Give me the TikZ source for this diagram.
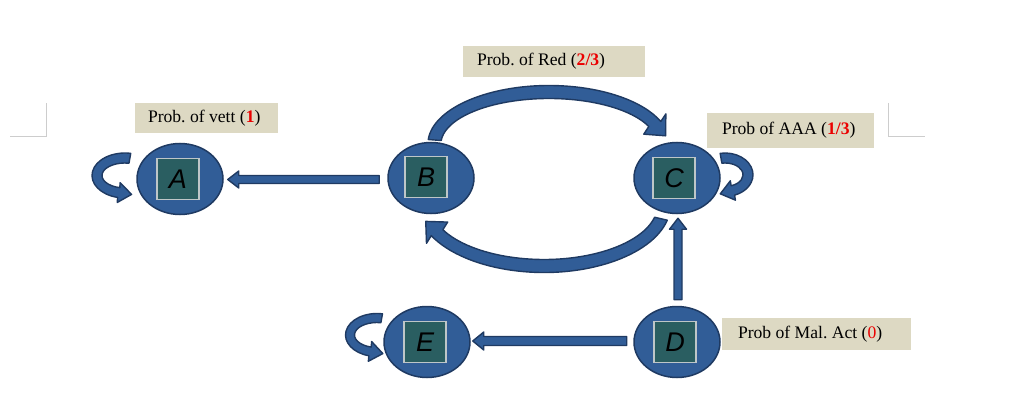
\documentclass[tikz,border=0pt]{standalone}
\usepackage{fontspec}
\setmainfont{Liberation Serif}
\newfontfamily\lettersans{Liberation Sans}
\usetikzlibrary{shapes.geometric,calc}
\definecolor{nodeblue}{RGB}{49,93,151}
\definecolor{edgeblue}{RGB}{31,58,98}
\definecolor{squareteal}{RGB}{42,94,97}
\definecolor{squareedge}{RGB}{190,198,200}
\definecolor{labeltan}{RGB}{221,217,195}
\definecolor{markgray}{RGB}{205,205,205}
\definecolor{probred}{RGB}{235,0,0}
\tikzset{
  blockarrow/.style={fill=nodeblue, draw=edgeblue, line width=1.4pt, line join=round},
  stateell/.style={ellipse, fill=nodeblue, draw=edgeblue, line width=1.5pt, minimum width=86pt, minimum height=71pt, inner sep=0pt},
  statesq/.style={rectangle, fill=squareteal, draw=squareedge, line width=1.3pt, minimum width=42pt, minimum height=41pt, inner sep=0pt, font=\lettersans\itshape\fontsize{27}{30}\selectfont},
  labelbox/.style={rectangle, fill=labeltan, inner sep=0pt},
  labeltext/.style={anchor=west, inner sep=0pt, font=\fontsize{17.6}{20}\selectfont},
  cornermark/.style={draw=markgray, line width=1pt}
}
\newcommand{\hl}[1]{{\color{probred}\bfseries #1}}
\newcommand{\bandarrow}[8]{%
  \pgfmathsetmacro{\bandsgn}{(#5>#4)?1:-1}%
  \pgfmathsetmacro{\banddir}{atan2((\bandsgn)*(#3)*cos(#5), -(\bandsgn)*(#2)*sin(#5))}%
  \pgfmathsetmacro{\bandout}{\banddir-90*(\bandsgn)}%
  \pgfmathsetmacro{\bandin}{\banddir+90*(\bandsgn)}%
  \pgfmathsetmacro{\bandrxo}{#2+#6}\pgfmathsetmacro{\bandryo}{#3+#6}%
  \pgfmathsetmacro{\bandrxi}{#2-#6}\pgfmathsetmacro{\bandryi}{#3-#6}%
  \draw[blockarrow] ($(#1)+(#4:\bandrxo pt and \bandryo pt)$)
     arc[start angle=#4, end angle=#5, x radius=\bandrxo pt, y radius=\bandryo pt]
     -- ($(#1)+(#5:#2pt and #3pt)+(\bandout:#7pt)$)
     -- ($(#1)+(#5:#2pt and #3pt)+(\banddir:#8pt)$)
     -- ($(#1)+(#5:#2pt and #3pt)+(\bandin:#7pt)$)
     -- ($(#1)+(#5:\bandrxi pt and \bandryi pt)$)
     arc[start angle=#5, end angle=#4, x radius=\bandrxi pt, y radius=\bandryi pt]
     -- cycle;}
\newcommand{\straightblock}[5]{% from, to, half shaft, half head, head length
  \coordinate (sbH) at ($(#2)!#5pt!(#1)$);
  \draw[blockarrow] ($(#1)!#3pt!90:(#2)$) -- ($(sbH)!#3pt!-90:(#1)$) -- ($(sbH)!#4pt!-90:(#1)$)
     -- (#2) -- ($(sbH)!#4pt!90:(#1)$) -- ($(sbH)!#3pt!90:(#1)$) -- ($(#1)!#3pt!-90:(#2)$) -- cycle;}
\begin{document}
\begin{tikzpicture}[x=1pt,y=1pt]
\useasboundingbox (0,0) rectangle (1014,394);
% corner marks
\draw[cornermark] (10,257) -- (46,257) -- (46,291);
\draw[cornermark] (888,291) -- (888,257) -- (925,257);
% states
\node[stateell] (A) at (180,215) {};
\node[stateell] (B) at (431,216) {};
\node[stateell] (C) at (677,216) {};
\node[stateell] (D) at (677,52) {};
\node[stateell] (E) at (427,52) {};
\node[statesq] (sqA) at ($(A)+(-2,0)$) {A};
\node[statesq] (sqB) at ($(B)+(-5,1)$) {B};
\node[statesq] (sqC) at ($(C)+(-3,0)$) {C};
\node[statesq] (sqD) at ($(D)+(-2,0)$) {D};
\node[statesq] (sqE) at ($(E)+(-2,0)$) {E};
% labels
\node[labelbox, minimum width=143pt, minimum height=30pt] (lA) at (206.5,276) {};
\node[labeltext] (tA) at ($(lA.west)+(13,0)$) {Prob.\ of vett (\hl{1})};
\node[labelbox, minimum width=182pt, minimum height=31pt] (lB) at (554,332.5) {};
\node[labeltext] (tB) at ($(lB.west)+(14,0)$) {Prob.\ of Red (\hl{2/3})};
\node[labelbox, minimum width=167pt, minimum height=35pt] (lC) at (790.5,263.5) {};
\node[labeltext] (tC) at ($(lC.west)+(15,0)$) {Prob of AAA (\hl{1/3})};
\node[labelbox, minimum width=189pt, minimum height=32pt] (lD) at (816.5,60) {};
\node[labeltext] (tD) at ($(lD.west)+(16,0)$) {Prob of Mal.\ Act ({\color{probred}0})};
% straight arrows
\coordinate (bafrom) at ($(B.west)+(-8,-1.5)$);
\coordinate (bato) at ($(A.east)+(4,-0.5)$);
\straightblock{bafrom}{bato}{4}{8.5}{11}
\coordinate (defrom) at ($(D.west)+(-6.5,1)$);
\coordinate (deto) at ($(E.east)+(2,1)$);
\straightblock{defrom}{deto}{4.5}{9}{11}
\coordinate (dcfrom) at ($(D.north)+(1,6)$);
\coordinate (dcto) at ($(C.south)+(1,-4)$);
\straightblock{dcfrom}{dcto}{4}{8.5}{11}
% curved arrows between B and C
\coordinate (topc) at ($(B)!0.5!(C)+(-5,34)$);
\bandarrow{topc}{114.6}{52}{175.6}{22.6}{6.5}{15}{16}
\coordinate (botc) at ($(B)!0.5!(C)+(-10,-27)$);
\bandarrow{botc}{120}{61}{-13}{-153}{6.5}{15}{16}
% self loops
\coordinate (loopA) at ($(A)+(-55,3.5)$);
\bandarrow{loopA}{28}{17.5}{80}{257}{5}{10}{13}
\coordinate (loopC) at ($(C)+(48,3.25)$);
\bandarrow{loopC}{23}{16.75}{100}{-70}{5}{10}{13}
\coordinate (loopE) at ($(E)+(-50,7)$);
\bandarrow{loopE}{27}{17}{80}{255}{4.5}{10}{13}
\end{tikzpicture}
\end{document}
